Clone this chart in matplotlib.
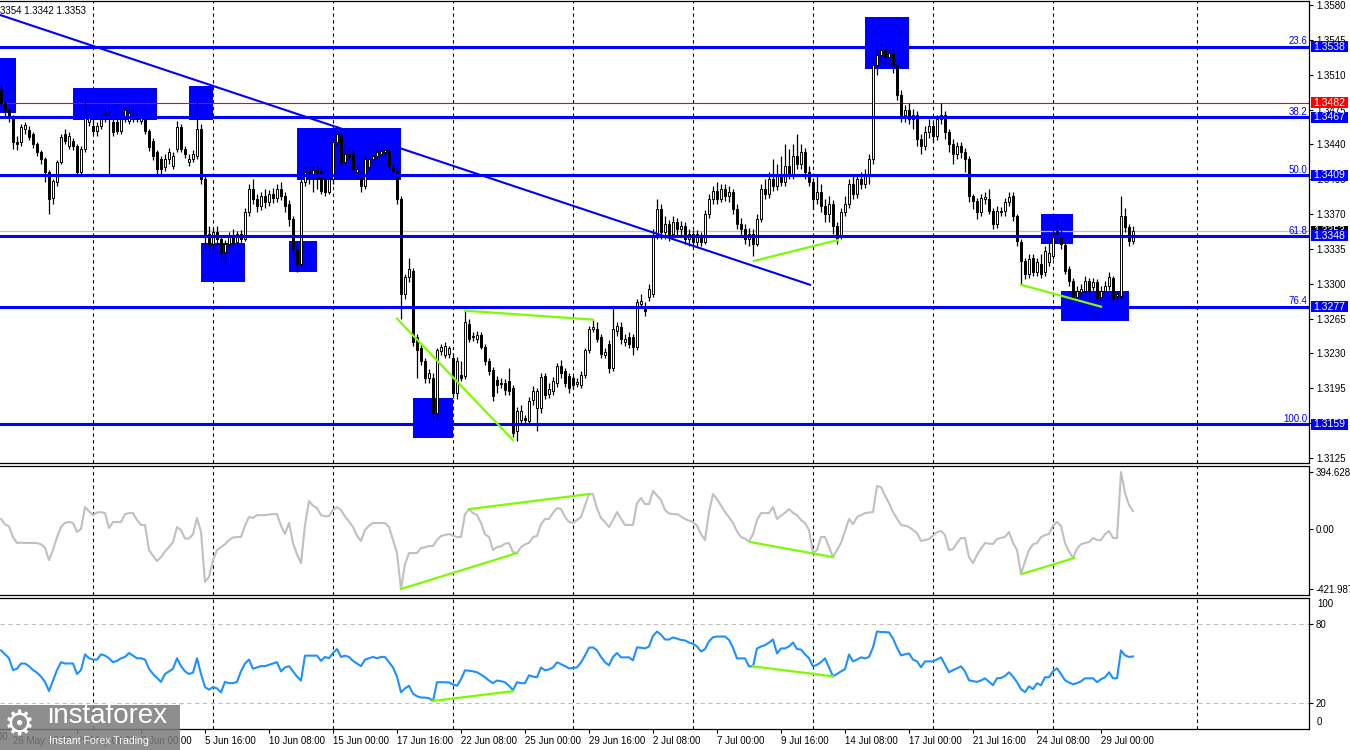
import numpy as np
import matplotlib
matplotlib.use("Agg")
import matplotlib.pyplot as plt
from matplotlib.patches import Rectangle

plt.rcParams['font.family'] = ['Liberation Sans', 'DejaVu Sans']
FS = 7.0

# H4 candles, prices in pips above 1.3000
opens = [
    496, 482, 475, 468, 442, 442, 455, 454, 450, 440,
    432, 425, 412, 386, 402, 422, 450, 438, 443, 438,
    412, 435, 462, 458, 453, 458, 472, 465, 462, 462,
    453, 465, 463, 467, 465, 463, 467, 453, 443, 432,
    425, 417, 425, 418, 435, 457, 435, 422, 425, 428,
    455, 405, 350, 340, 352, 345, 332, 340, 348, 342,
    350, 345, 372, 395, 385, 378, 388, 382, 390, 386,
    395, 388, 380, 365, 335, 320, 402, 412, 408, 414,
    413, 405, 392, 405, 442, 448, 422, 430, 430, 412,
    408, 398, 417, 425, 428, 430, 432, 433, 417, 413,
    385, 290, 307, 313, 247, 235, 222, 205, 205, 170,
    232, 228, 229, 225, 190, 208, 207, 260, 248, 245,
    249, 237, 222, 213, 203, 200, 200, 202, 195, 152,
    163, 165, 162, 183, 175, 175, 207, 189, 192, 200,
    217, 212, 207, 205, 199, 198, 208, 233, 255, 255,
    247, 228, 240, 215, 253, 257, 242, 247, 247, 237,
    280, 278, 287, 290, 348, 375, 352, 360, 350, 362,
    355, 358, 345, 350, 342, 348, 342, 370, 385, 393,
    385, 395, 388, 392, 375, 360, 355, 345, 350, 340,
    365, 395, 390, 405, 398, 410, 402, 418, 410, 428,
    420, 432, 412, 402, 385, 392, 378, 370, 380, 358,
    348, 372, 380, 400, 390, 405, 400, 408, 425, 520,
    530, 535, 528, 532, 520, 490, 470, 475, 465, 470,
    445, 438, 452, 458, 448, 465, 470, 452, 440, 430,
    438, 432, 425, 388, 383, 372, 385, 385, 373, 360,
    372, 373, 382, 388, 368, 342, 323, 310, 326, 312,
    320, 312, 322, 328, 352, 349, 339, 315, 303, 287,
    292, 293, 303, 297, 302, 287, 293, 298, 306, 288,
    288, 368, 357, 343,
]
closes = [
    482, 475, 468, 442, 440, 457, 459, 447, 440, 432,
    425, 412, 385, 403, 422, 447, 443, 448, 438, 412,
    435, 468, 468, 453, 458, 465, 465, 470, 452, 453,
    465, 475, 472, 465, 468, 467, 453, 437, 428, 415,
    415, 425, 432, 428, 457, 435, 430, 425, 430, 455,
    405, 350, 340, 352, 345, 332, 340, 348, 342, 350,
    345, 372, 395, 385, 378, 388, 382, 390, 386, 395,
    388, 378, 365, 335, 320, 402, 412, 410, 414, 405,
    393, 392, 405, 442, 450, 422, 430, 428, 415, 415,
    398, 425, 425, 428, 432, 433, 434, 418, 413, 385,
    290, 307, 315, 242, 233, 222, 205, 210, 170, 233,
    237, 238, 235, 190, 222, 205, 262, 245, 247, 249,
    237, 222, 212, 187, 198, 199, 193, 192, 150, 172,
    172, 163, 182, 192, 192, 206, 188, 194, 202, 217,
    210, 200, 195, 198, 201, 208, 233, 255, 257, 245,
    229, 231, 215, 255, 258, 245, 245, 240, 237, 282,
    283, 273, 295, 348, 375, 352, 360, 350, 362, 355,
    358, 345, 350, 342, 350, 342, 370, 385, 393, 385,
    395, 388, 392, 375, 360, 355, 345, 350, 340, 365,
    395, 390, 405, 398, 410, 402, 418, 410, 428, 420,
    432, 412, 402, 385, 392, 378, 370, 380, 358, 345,
    372, 380, 400, 390, 405, 400, 408, 425, 520, 530,
    535, 528, 532, 520, 490, 470, 475, 465, 470, 445,
    438, 452, 458, 448, 465, 470, 452, 440, 430, 438,
    432, 425, 388, 383, 372, 386, 387, 373, 360, 373,
    373, 382, 387, 368, 343, 323, 310, 325, 312, 322,
    310, 333, 331, 350, 353, 340, 313, 303, 287, 293,
    295, 303, 293, 302, 285, 293, 298, 307, 285, 290,
    368, 357, 343, 353,
]
highs = [
    500, 484, 477, 470, 448, 460, 462, 458, 452, 442,
    434, 427, 414, 405, 424, 450, 455, 452, 446, 440,
    438, 485, 472, 466, 462, 468, 477, 474, 465, 466,
    470, 480, 476, 480, 472, 470, 470, 455, 446, 434,
    428, 430, 436, 432, 463, 460, 438, 430, 434, 485,
    460, 408, 358, 356, 358, 348, 344, 352, 355, 353,
    354, 376, 400, 405, 390, 392, 395, 394, 396, 400,
    402, 392, 384, 368, 340, 406, 418, 416, 418, 418,
    417, 410, 410, 446, 458, 452, 440, 438, 434, 420,
    412, 428, 430, 433, 442, 437, 440, 438, 420, 416,
    388, 310, 326, 316, 250, 240, 225, 214, 210, 236,
    240, 242, 238, 230, 226, 222, 273, 265, 252, 253,
    252, 240, 225, 216, 207, 205, 204, 215, 198, 176,
    178, 168, 186, 197, 195, 210, 210, 200, 206, 220,
    223, 215, 210, 208, 205, 212, 236, 258, 264, 262,
    250, 235, 244, 278, 262, 262, 250, 252, 250, 285,
    290, 282, 300, 355, 385, 380, 368, 364, 368, 366,
    363, 362, 355, 354, 354, 352, 374, 390, 398, 402,
    400, 400, 398, 395, 380, 366, 360, 356, 355, 370,
    400, 405, 412, 425, 420, 428, 440, 435, 440, 450,
    440, 436, 418, 406, 410, 400, 385, 388, 384, 362,
    376, 388, 405, 408, 410, 412, 415, 430, 528, 540,
    542, 540, 538, 536, 522, 495, 480, 482, 476, 474,
    450, 458, 465, 462, 470, 482, 474, 455, 445, 442,
    442, 436, 428, 390, 386, 390, 392, 395, 376, 378,
    377, 386, 392, 392, 370, 345, 326, 330, 330, 326,
    330, 338, 352, 355, 363, 356, 342, 318, 306, 298,
    300, 308, 306, 306, 305, 298, 303, 312, 308, 293,
    388, 376, 360, 358,
]
lows = [
    478, 468, 462, 435, 434, 438, 450, 444, 436, 428,
    420, 402, 370, 380, 398, 420, 440, 435, 434, 408,
    408, 432, 458, 450, 448, 455, 462, 408, 448, 450,
    450, 462, 460, 462, 462, 460, 450, 433, 424, 410,
    410, 413, 420, 415, 432, 432, 426, 418, 422, 425,
    400, 335, 333, 336, 338, 322, 320, 335, 336, 338,
    340, 343, 368, 380, 372, 374, 376, 378, 381, 382,
    384, 372, 358, 325, 312, 316, 398, 400, 392, 395,
    390, 388, 390, 400, 438, 418, 418, 424, 410, 405,
    392, 395, 414, 420, 424, 426, 428, 414, 408, 380,
    265, 285, 302, 238, 205, 218, 200, 200, 165, 163,
    228, 225, 225, 185, 184, 202, 204, 242, 243, 241,
    234, 218, 208, 182, 190, 195, 188, 188, 146, 142,
    158, 160, 158, 178, 152, 170, 184, 185, 188, 196,
    205, 196, 190, 194, 196, 195, 205, 230, 252, 242,
    225, 225, 210, 212, 248, 240, 238, 236, 228, 233,
    276, 268, 283, 287, 345, 345, 345, 343, 346, 348,
    348, 340, 338, 336, 338, 338, 340, 366, 380, 380,
    382, 383, 382, 370, 355, 348, 340, 338, 328, 338,
    362, 385, 386, 393, 394, 398, 398, 405, 405, 415,
    415, 405, 398, 375, 380, 372, 362, 362, 350, 340,
    345, 368, 376, 385, 386, 395, 396, 400, 420, 510,
    522, 520, 518, 512, 485, 462, 462, 460, 455, 438,
    430, 434, 446, 442, 444, 460, 445, 432, 420, 425,
    426, 412, 382, 375, 365, 368, 380, 370, 355, 356,
    368, 368, 378, 363, 338, 299, 305, 306, 308, 308,
    306, 308, 318, 325, 345, 335, 310, 298, 283, 283,
    288, 290, 275, 292, 280, 283, 290, 294, 281, 284,
    285, 352, 338, 340,
]

cci = [
    67, 30, 15, -60, -101, -98, -101, -100, -101, -101,
    -110, -135, -220, -150, -60, 11, 40, 46, 39, -24,
    -3, 150, 120, 94, 112, 115, 108, 4, 46, 46,
    46, 100, 108, 108, 60, 25, 25, -150, -190, -227,
    -200, -160, -129, -94, 11, -11, -70, -70, -40, 74,
    -24, -373, -338, -220, -150, -129, -110, -80, -62, -59,
    -59, 20, 81, 74, 94, 94, 94, 98, 101, 101,
    20, -38, 39, -100, -180, -241, 25, 192, 160, 143,
    94, 85, 88, 130, 150, 129, 85, 50, 11, -50,
    -87, -10, 20, 39, 39, 39, 39, 11, -80, -171,
    -421.99, -250, -171, -171, -171, -136, -130, -122, -122, -80,
    -52, -45, -38, -50, -59, -59, 100, 136, 108, 95,
    39, -40, -59, -150, -129, -125, -105, -101, -164, -171,
    -130, -110, -100, -60, -52, 30, 67, 67, 110, 143,
    136, 80, 46, 39, 60, 81, 160, 241, 241, 140,
    74, 46, 11, 60, 115, 70, 25, 25, 25, 178,
    213, 171, 171, 262, 230, 199, 130, 105, 101, 101,
    85, 67, 55, 46, 20, -40, -80, 115, 241, 206,
    160, 115, 80, 40, -20, -59, -70, -90, -40, 60,
    108, 108, 108, 150, 67, 90, 110, 136, 110, 94,
    60, 39, -10, -171, -150, -59, -59, -130, -199, -150,
    -100, -20, 67, 30, 80, 94, 108, 112, 115, 297,
    290, 230, 178, 115, 70, 25, 20, 11, -10, -31,
    -87, -80, -73, -50, -25, -17, -45, -150, -143, -100,
    -66, -66, -200, -241, -185, -140, -101, -105, -108, -73,
    -65, -59, -24, -100, -150, -317, -230, -150, -110, -101,
    -60, -45, -38, 20, 46, 18, -101, -160, -206, -140,
    -110, -101, -94, -66, -80, -80, -40, -17, -66, -66,
    394.63, 250, 164, 122,
]
rsi = [
    60, 57, 54, 45, 46, 50, 50, 48, 45, 43,
    40, 36, 29, 37, 45, 51, 50, 50, 50, 42,
    45, 57, 54, 53, 53, 57, 56, 54, 51, 52,
    54, 55, 58, 56, 54, 54, 53, 46, 42, 39,
    36, 42, 44, 46, 54, 48, 44, 42, 43, 54,
    42, 32, 30, 32, 31, 28, 36, 35, 35, 36,
    44, 50, 53, 46, 47, 48, 48, 49, 50, 51,
    44, 47, 48, 44, 40, 37, 56, 56, 56, 56,
    52, 55, 54, 58, 61, 55, 56, 55, 52, 50,
    48, 53, 54, 55, 54, 55, 55, 51, 47, 40,
    28, 31, 33, 27, 25, 24, 24, 23.5, 21.3, 35.7,
    35.7, 35.7, 35.5, 34, 33, 38, 44.8, 44.5, 44, 43.3,
    41.5, 39.5, 37, 35, 37, 36.5, 35.7, 33, 29.6, 35.7,
    35, 35, 41, 40, 39.5, 47, 44.8, 45.5, 47, 50.9,
    49.5, 48, 46.3, 46.5, 47.1, 50.9, 56, 62, 62.3, 60,
    55, 51, 48.6, 55, 58, 54.7, 54.7, 54.7, 52.4, 62.3,
    62, 61.5, 63, 71, 74.4, 72, 68.3, 68.3, 69.9, 69,
    68, 67.6, 66, 65, 63, 59.2, 61, 67, 70, 70.6,
    70.6, 70.6, 68, 62, 53.9, 53.9, 53.9, 47.8, 47.8, 61.5,
    63, 64, 66, 68.3, 57.7, 61.5, 61.5, 63, 66, 61,
    60.7, 57, 54, 47.8, 49, 51, 53.9, 47, 40.2, 42,
    44, 45.6, 56.9, 51.6, 53, 54.7, 53.9, 55, 62.3, 74.4,
    74, 74, 73.7, 69.1, 62, 56.2, 57, 57.7, 53, 51.6,
    47.1, 51.6, 51.6, 51.6, 53, 54.7, 49, 43.3, 45, 46.3,
    47.8, 44, 37.2, 36.5, 36, 37, 38.7, 36, 33.4, 38.7,
    39, 40.5, 43.3, 40, 35.7, 30.5, 28.1, 32.6, 30.4, 34.9,
    33.4, 39.5, 39.5, 44, 46.3, 42, 37.2, 35.5, 34.2, 35,
    36.4, 38.7, 38.7, 38.7, 35.7, 38, 39.5, 43.3, 38.7, 38.7,
    60, 56.2, 55, 55.4,
]

# levels and labels
fib_levels = [1.3538, 1.3467, 1.3409, 1.3348, 1.3277, 1.3159]
fib_names = ["23.6", "38.2", "50.0", "61.8", "76.4", "100.0"]
price_ticks = [1.3125, 1.3160, 1.3195, 1.3230, 1.3265, 1.3300, 1.3335,
               1.3370, 1.3405, 1.3440, 1.3475, 1.3510, 1.3545, 1.3580]
red_level = 1.3482
last_price = 1.3353
cci_max, cci_min = 394.6289, -421.9874

# zones (bar from, bar to, pips low, pips high)
zones = [(-0.25, 3.75, 472, 527), (18, 39, 464, 497), (47, 53, 464, 499),
         (74, 100, 404, 456), (50, 61, 302, 341), (72, 79, 312, 343),
         (103, 113, 145, 185), (216, 227, 516, 568), (260, 268, 340, 370),
         (265, 282, 263, 293)]
trend = ((-0.25, 202.25), (570, 299))
price_div = [((99, 128), (265, 143)), ((116, 148), (273, 264)),
             ((188.25, 209.25), (323, 344)), ((255, 275), (299, 277))]
cci_div = [((100, 129), (-421.99, -171)), ((117, 147), (136, 241)),
           ((187.25, 208), (-94, -199)), ((255.25, 268.25), (-317, -206))]
rsi_div = [((107.75, 128), (21.3, 28.9)), ((188, 208), (47.8, 40.2))]

grid_bars = [23, 53, 83, 113, 143, 173, 203, 233, 263, 299]
tick_bars = [3, 19, 35, 51, 67, 83, 99, 115, 131, 147, 163, 179, 195, 211,
             227, 243, 259, 275]
tick_labels = ["26 May 16:00", "29 May 08:00", "3 Jun 00:00", "5 Jun 16:00",
               "10 Jun 08:00", "15 Jun 00:00", "17 Jun 16:00", "22 Jun 08:00",
               "25 Jun 00:00", "29 Jun 16:00", "2 Jul 08:00", "7 Jul 00:00",
               "9 Jul 16:00", "14 Jul 08:00", "17 Jul 00:00", "21 Jul 16:00",
               "24 Jul 08:00", "29 Jul 00:00"]


def px(p):
    return 1.3 + np.asarray(p, dtype=float) / 10000.0


BLUE = "#0000ff"
GREEN = "#7cfc00"

fig = plt.figure(figsize=(13.5, 7.5), dpi=100)
W = 1309 / 1350
ax = fig.add_axes([0, 1 - 463 / 750, W, 462 / 750])
ax_cci = fig.add_axes([0, 1 - 595 / 750, W, 129 / 750])
ax_rsi = fig.add_axes([0, 1 - 729 / 750, W, 131 / 750])

for a in (ax, ax_cci, ax_rsi):
    a.set_xlim(-0.25, 327)
    a.spines["left"].set_visible(False)
    for s in ("top", "right", "bottom"):
        a.spines[s].set_linewidth(0.9)
    a.yaxis.tick_right()
    a.tick_params(axis="y", direction="out", length=3, width=0.8,
                  labelsize=FS, pad=2)
    for g in grid_bars:
        a.axvline(g, color="black", lw=0.8, ls=(0, (3, 3)), zorder=0.5)
    if a is not ax_rsi:
        a.set_xticks([])

# ---- price panel
ax.set_ylim(1.3120, 1.3584)
for x0, x1, p0, p1 in zones:
    ax.add_patch(Rectangle((x0, px(p0)), x1 - x0, px(p1) - px(p0),
                           fc=BLUE, ec="none", zorder=1))

ax.axhline(red_level, color="red", lw=0.8, zorder=2)
ax.axhline(last_price, color="#c0c0c0", lw=0.9, zorder=2)

xs = np.arange(len(closes))
o, c, h, l = px(opens), px(closes), px(highs), px(lows)
ax.vlines(xs, l, h, color="black", lw=0.9, zorder=3)
body_lo = np.minimum(o, c)
body_h = np.maximum(np.abs(c - o), 0.00007)
ax.bar(xs, body_h, bottom=body_lo, width=0.7,
       color=np.where(c >= o, "white", "black"), edgecolor="black",
       linewidth=0.7, zorder=3.2)

for lev, name in zip(fib_levels, fib_names):
    ax.axhline(lev, color=BLUE, lw=2.2, zorder=4)
    ax.text(1 - 2 / 1309, lev + 0.00004, name, transform=ax.get_yaxis_transform(),
            ha="right", va="bottom", color=BLUE, fontsize=FS, zorder=6)

ax.plot(trend[0], px(trend[1]), color=BLUE, lw=1.5, zorder=4)
for xx, pp in price_div:
    ax.plot(xx, px(pp), color=GREEN, lw=1.6, zorder=4.5)

ax.set_yticks(price_ticks)
ax.set_yticklabels(["%.4f" % t for t in price_ticks])

# price tags on the right scale
tr = ax.get_yaxis_transform()
tag_x0, tag_w = 1 + 2 / 1309, 37 / 1309
tag_h = 11 * (1.3584 - 1.3120) / 462


def price_tag(value, colour, z):
    ax.add_patch(Rectangle((tag_x0, value - tag_h / 2), tag_w, tag_h,
                           transform=tr, fc=colour, ec="none", zorder=z,
                           clip_on=False))
    ax.text(tag_x0 + 2 / 1309, value, "%.4f" % value, transform=tr,
            ha="left", va="center", color="white", fontsize=7.5,
            zorder=z + 0.1)


price_tag(last_price, "black", 5)
price_tag(red_level, "red", 6)
for lev in fib_levels:
    price_tag(lev, BLUE, 7)

# ---- CCI panel
ax_cci.set_ylim(-464, 437)
ax_cci.plot(xs, cci, color="#c0c0c0", lw=1.5, zorder=3)
for xx, vv in cci_div:
    ax_cci.plot(xx, vv, color=GREEN, lw=1.6, zorder=4)
ax_cci.set_yticks([cci_max, 0, cci_min])
ax_cci.set_yticklabels(["%.4f" % cci_max, "0.00", "%.4f" % cci_min])

# ---- RSI panel
ax_rsi.set_ylim(0, 100)
for lv in (20, 80):
    ax_rsi.axhline(lv, color="#c0c0c0", lw=0.8, ls=(0, (4, 3)), zorder=1)
ax_rsi.plot(xs, rsi, color="#1e90ff", lw=1.5, zorder=3)
for xx, vv in rsi_div:
    ax_rsi.plot(xx, vv, color=GREEN, lw=1.6, zorder=4)
ax_rsi.set_yticks([20, 80])
ax_rsi.set_yticklabels(["20", "80"])
rtr = ax_rsi.get_yaxis_transform()
ax_rsi.text(1 + 8 / 1309, 99.5, "100", transform=rtr, ha="left", va="top",
            fontsize=FS)
ax_rsi.text(1 + 8 / 1309, 1.5, "0", transform=rtr, ha="left", va="bottom",
            fontsize=FS)

ax_rsi.set_xticks(tick_bars)
ax_rsi.set_xticklabels(tick_labels, ha="left")
ax_rsi.tick_params(axis="x", direction="out", length=3, width=0.8,
                   labelsize=FS, pad=2)
ax_rsi.text(-13, -0.025, "22 May 00:00", transform=ax_rsi.get_xaxis_transform(),
            ha="left", va="top", fontsize=FS, clip_on=False)

# header with last bar values
fig.text(-8 / 1350, 1 - 11 / 750, "1.3354 1.3342 1.3353", fontsize=FS,
         ha="left", va="center")

# watermark logo
fig.patches.append(Rectangle((0, 0), 180 / 1350, 45 / 750,
                             transform=fig.transFigure, fc="#7a7a7a",
                             ec="none", alpha=0.85, zorder=10))
fig.text(4 / 1350, 1 - 725 / 750, "\u2699", color="white", fontsize=25,
         family=["DejaVu Sans"], ha="left", va="center", zorder=11)
fig.text(47 / 1350, 1 - 716 / 750, "instaforex", color="white", fontsize=20,
         ha="left", va="center", zorder=11)
fig.text(49 / 1350, 1 - 741 / 750, "Instant Forex Trading", color="white",
         fontsize=7.6, ha="left", va="center", zorder=11)

fig.savefig("out.png", dpi=100)
